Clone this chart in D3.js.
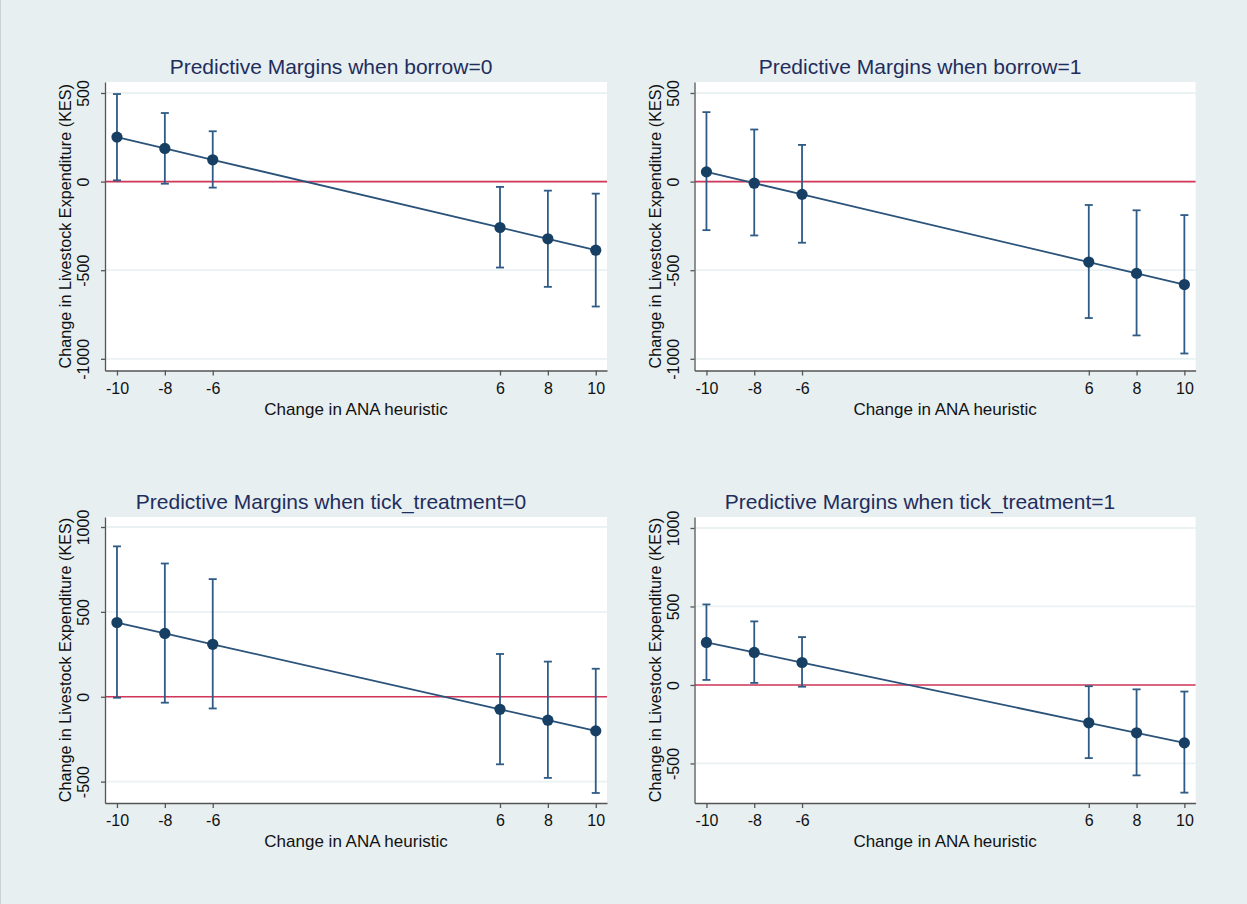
<!DOCTYPE html>
<html>
<head>
<meta charset="utf-8">
<script src="https://cdn.jsdelivr.net/npm/d3@7"></script>
<style>
  body { margin: 0; background: #e7eff1; }
  svg { display: block; font-family: "Liberation Sans", Arial, sans-serif; }
</style>
</head>
<body>
<svg id="chart" width="1247" height="904"></svg>
<script>
// x values (change in ANA heuristic)
const xValues = [-10, -8, -6, 6, 8, 10];
const xTicks = [-10, -8, -6, 6, 8, 10];

const titles = [
    "Predictive Margins when borrow=0",
    "Predictive Margins when borrow=1",
    "Predictive Margins when tick_treatment=0",
    "Predictive Margins when tick_treatment=1"
];

// predictive margins and 95% CI per panel
const borrow0Margin = [251, 187, 123, -259, -323, -387];
const borrow0Lower  = [7, -12, -34, -485, -594, -705];
const borrow0Upper  = [494, 387, 284, -30, -51, -68];

const borrow1Margin = [55, -9, -72, -454, -518, -581];
const borrow1Lower  = [-274, -304, -345, -770, -868, -970];
const borrow1Upper  = [392, 294, 207, -132, -162, -189];

const tick0Margin = [437, 373, 309, -74, -138, -201];
const tick0Lower  = [-6, -35, -69, -398, -478, -567];
const tick0Upper  = [886, 785, 693, 252, 207, 165];

const tick1Margin = [271, 207, 143, -241, -305, -369];
const tick1Lower  = [32, 13, -11, -466, -576, -686];
const tick1Upper  = [513, 405, 305, -8, -28, -42];

const yTicksTop = [-1000, -500, 0, 500];
const yTicksBottom = [-500, 0, 500, 1000];

const margins = [borrow0Margin, borrow1Margin, tick0Margin, tick1Margin];
const lowers = [borrow0Lower, borrow1Lower, tick0Lower, tick1Lower];
const uppers = [borrow0Upper, borrow1Upper, tick0Upper, tick1Upper];
const yTicks = [yTicksTop, yTicksTop, yTicksBottom, yTicksBottom];
const yDomains = [[-1066, 562], [-1066, 562], [-626, 1059], [-752, 1070]];

const svg = d3.select("#chart");
svg.append("rect").attr("width", 1247).attr("height", 904).attr("fill", "#e7eff1");
svg.append("line").attr("x1", 0.5).attr("x2", 0.5).attr("y1", 0).attr("y2", 904)
    .attr("stroke", "#c9d2d5");

// plot area boxes: columns and rows
const colLeft = [105, 694.5];
const colRight = [607, 1195.6];
const rowTop = [82, 517];
const rowBottom = [370.5, 803];

const fmt = d => String(d);  // plain hyphen minus, no thousands separator

titles.forEach((title, i) => {
    const col = i % 2, row = Math.floor(i / 2);
    const left = colLeft[col], right = colRight[col];
    const top = rowTop[row], bottom = rowBottom[row];

    const x = d3.scaleLinear().domain([-10.5, 10.47]).range([left, right]);
    const y = d3.scaleLinear().domain(yDomains[i]).range([bottom, top]);

    const g = svg.append("g");

    // white plot region
    g.append("rect")
        .attr("x", left).attr("y", top)
        .attr("width", right - left).attr("height", bottom - top)
        .attr("fill", "#ffffff");

    // gridlines
    g.append("g").selectAll("line")
        .data(yTicks[i])
        .join("line")
        .attr("x1", left).attr("x2", right)
        .attr("y1", d => y(d)).attr("y2", d => y(d))
        .attr("stroke", "#eaf2f3")
        .attr("stroke-width", 1.8);

    // zero reference line
    g.append("line")
        .attr("x1", left).attr("x2", right)
        .attr("y1", y(0)).attr("y2", y(0))
        .attr("stroke", "#d4365a")
        .attr("stroke-width", 1.6);

    // axes
    const xAxis = d3.axisBottom(x).tickValues(xTicks).tickFormat(fmt)
        .tickSize(5).tickSizeOuter(0).tickPadding(7);
    const gx = g.append("g").attr("transform", `translate(0,${bottom})`).call(xAxis);
    gx.select(".domain").attr("stroke", "#555").attr("stroke-width", 1.3);
    gx.selectAll(".tick line").attr("stroke", "#555").attr("stroke-width", 1.3);
    gx.selectAll(".tick text")
        .attr("font-size", 16).attr("fill", "#111")
        .attr("font-family", "Liberation Sans, Arial, sans-serif");

    const yAxis = d3.axisLeft(y).tickValues(yTicks[i]).tickFormat(fmt)
        .tickSize(4).tickSizeOuter(0);
    const gy = g.append("g").attr("transform", `translate(${left},0)`).call(yAxis);
    gy.select(".domain").attr("stroke", "#555").attr("stroke-width", 1.3);
    gy.selectAll(".tick line").attr("stroke", "#555").attr("stroke-width", 1.3);
    gy.selectAll(".tick text")
        .attr("font-size", 16).attr("fill", "#111")
        .attr("font-family", "Liberation Sans, Arial, sans-serif")
        .attr("text-anchor", "middle")
        .attr("x", null).attr("dy", null)
        .attr("transform", "translate(-16,0) rotate(-90)");

    // connecting line through margins
    const pts = xValues.map((v, k) => [v, margins[i][k]]);
    g.append("path")
        .datum(pts)
        .attr("fill", "none")
        .attr("stroke", "#2b5379")
        .attr("stroke-width", 1.8)
        .attr("d", d3.line().x(d => x(d[0])).y(d => y(d[1])));

    // CI bars with caps
    const ci = xValues.map((v, k) => ({ x: v, lo: lowers[i][k], hi: uppers[i][k] }));
    const bars = g.append("g").attr("stroke", "#2f5b86").attr("stroke-width", 1.8);
    bars.selectAll(".v").data(ci).join("line")
        .attr("x1", d => x(d.x)).attr("x2", d => x(d.x))
        .attr("y1", d => y(d.lo)).attr("y2", d => y(d.hi));
    bars.selectAll(".capHi").data(ci).join("line")
        .attr("x1", d => x(d.x) - 4).attr("x2", d => x(d.x) + 4)
        .attr("y1", d => y(d.hi)).attr("y2", d => y(d.hi));
    bars.selectAll(".capLo").data(ci).join("line")
        .attr("x1", d => x(d.x) - 4).attr("x2", d => x(d.x) + 4)
        .attr("y1", d => y(d.lo)).attr("y2", d => y(d.lo));

    // markers
    g.append("g").selectAll("circle")
        .data(pts)
        .join("circle")
        .attr("cx", d => x(d[0])).attr("cy", d => y(d[1]))
        .attr("r", 5.6)
        .attr("fill", "#163f63");

    // titles
    g.append("text")
        .attr("x", (left - 50 + right) / 2).attr("y", top - 8)
        .attr("text-anchor", "middle")
        .attr("font-size", 21)
        .attr("fill", "#1f2d5c")
        .text(title);

    g.append("text")
        .attr("x", (left + right) / 2).attr("y", bottom + 44)
        .attr("text-anchor", "middle")
        .attr("font-size", 17)
        .attr("fill", "#111")
        .text("Change in ANA heuristic");

    g.append("text")
        .attr("transform", `translate(${left - 34},${(top + bottom) / 2}) rotate(-90)`)
        .attr("text-anchor", "middle")
        .attr("font-size", 16.2)
        .attr("fill", "#111")
        .text("Change in Livestock Expenditure (KES)");
});
</script>
</body>
</html>
